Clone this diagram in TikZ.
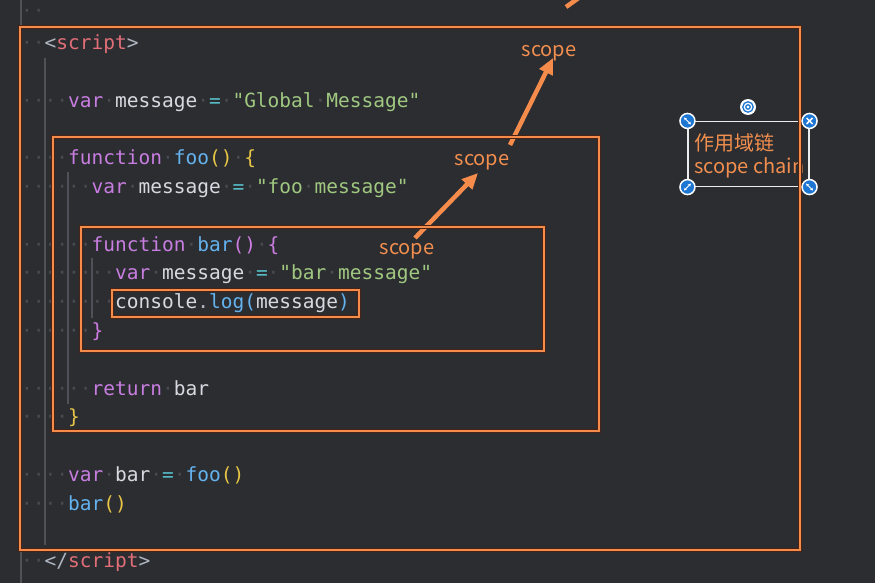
\documentclass[tikz,border=0pt]{standalone}
\usepackage{fontspec}
\setmonofont{DejaVu Sans Mono}
\newfontfamily\cjk{Noto Sans CJK SC}
\usetikzlibrary{arrows.meta,calc}
\definecolor{bg}{RGB}{43,45,49}
\definecolor{guide}{RGB}{78,81,87}
\definecolor{dotc}{RGB}{72,75,81}
\definecolor{ckw}{RGB}{200,125,224}
\definecolor{cid}{RGB}{214,218,224}
\definecolor{cop}{RGB}{86,190,200}
\definecolor{cstr}{RGB}{160,200,128}
\definecolor{cfn}{RGB}{100,178,238}
\definecolor{cyel}{RGB}{232,197,70}
\definecolor{cpur}{RGB}{205,125,225}
\definecolor{ctag}{RGB}{226,110,120}
\definecolor{cpun}{RGB}{175,182,194}
\definecolor{orng}{RGB}{245,140,76}
\definecolor{obrd}{RGB}{70,35,20}
\definecolor{lab}{RGB}{242,142,78}
\definecolor{hblue}{RGB}{28,118,210}
\newcommand{\wsp}{\textcolor{dotc}{·}}
\newcommand{\kw}[1]{\textcolor{ckw}{#1}}
\newcommand{\idf}[1]{\textcolor{cid}{#1}}
\newcommand{\opr}[1]{\textcolor{cop}{#1}}
\newcommand{\strg}[1]{\textcolor{cstr}{#1}}
\newcommand{\fnn}[1]{\textcolor{cfn}{#1}}
\newcommand{\yl}[1]{\textcolor{cyel}{#1}}
\newcommand{\pu}[1]{\textcolor{cpur}{#1}}
\newcommand{\pun}[1]{\textcolor{cpun}{#1}}
\begin{document}
\begin{tikzpicture}[x=1pt,y=-1pt,
  code/.style={anchor=base west, inner sep=0pt, font=\ttfamily\fontsize{19.5}{23}\selectfont},
  guideline/.style={draw=guide, line width=1.1pt},
  scopebox/.style={draw=obrd, double=orng, double distance=2.8pt, line width=0.9pt, inner sep=0pt},
  lbl/.style={text=lab, inner sep=1pt, font=\cjk\fontsize{20}{23}\selectfont},
  arr/.style={draw=orng, line width=4.5pt, -{Triangle[length=16pt,width=14pt]}},
  handle/.style={circle, fill=hblue, draw=white, line width=1.5pt, minimum size=15pt, inner sep=0pt},
  hicon/.style={white, line width=1pt, {Stealth[length=2.8pt,width=3.2pt]}-{Stealth[length=2.8pt,width=3.2pt]}}
]
\useasboundingbox (0,0) rectangle (875,583);
\fill[bg] (0,0) rectangle (875,583);
% gutter and indent guides
\draw[guideline] (21,0) -- (21,583);
\draw[guideline] (45,58) -- (45,545);
\draw[guideline] (68,172) -- (68,404);
\draw[guideline] (92,258) -- (92,318);
% code
\node[code] (l0) at (21,18) {\wsp\wsp};
\node[code] (l1) at (21,49.5) {\wsp\wsp\pun{<}\textcolor{ctag}{script}\pun{>}};
\node[code] (l2) at (21,107.5) {\wsp\wsp\wsp\wsp\kw{var}\wsp\idf{message}\wsp\opr{=}\wsp\strg{"Global\wsp Message"}};
\node[code] (l3) at (21,164.5) {\wsp\wsp\wsp\wsp\kw{function}\wsp\fnn{foo}\yl{()}\wsp\yl{\{}};
\node[code] (l4) at (21,193.5) {\wsp\wsp\wsp\wsp\wsp\wsp\kw{var}\wsp\idf{message}\wsp\opr{=}\wsp\strg{"foo\wsp message"}};
\node[code] (l5) at (21,251) {\wsp\wsp\wsp\wsp\wsp\wsp\kw{function}\wsp\fnn{bar}\pu{()}\wsp\pu{\{}};
\node[code] (l6) at (21,279.5) {\wsp\wsp\wsp\wsp\wsp\wsp\wsp\wsp\kw{var}\wsp\idf{message}\wsp\opr{=}\wsp\strg{"bar\wsp message"}};
\node[code] (l7) at (21,308.5) {\wsp\wsp\wsp\wsp\wsp\wsp\wsp\wsp\idf{console}\pun{.}\fnn{log}\fnn{(}\idf{message}\fnn{)}};
\node[code] (l8) at (21,337.5) {\wsp\wsp\wsp\wsp\wsp\wsp\pu{\}}};
\node[code] (l9) at (21,395.5) {\wsp\wsp\wsp\wsp\wsp\wsp\kw{return}\wsp\idf{bar}};
\node[code] (l10) at (21,423.5) {\wsp\wsp\wsp\wsp\yl{\}}};
\node[code] (l11) at (21,481.5) {\wsp\wsp\wsp\wsp\kw{var}\wsp\idf{bar}\wsp\opr{=}\wsp\fnn{foo}\yl{()}};
\node[code] (l12) at (21,510.5) {\wsp\wsp\wsp\wsp\fnn{bar}\yl{()}};
\node[code] (l13) at (21,567.5) {\wsp\wsp\pun{</}\textcolor{ctag}{script}\pun{>}};
% scope labels and arrows
\node[lbl, anchor=base] (s1) at (407,254) {scope};
\node[lbl, anchor=base] (s2) at (482,165) {scope};
\node[lbl, anchor=base] (s3) at (549,57) {scope};
\draw[arr] ($(s1.base)+(8,-16)$) -- ($(s2.base)+(-4,8)$);
\draw[arr] ($(s2.base)+(28,-20)$) -- ($(s3.base)+(4,1)$);
\coordinate (topa) at (566,7);
\coordinate (topb) at (580,-3);
\draw[draw=orng, line width=4.5pt] (topa) -- (topb);
% selected text box
\node[draw=white!85!gray, line width=1.1pt, minimum width=121pt, minimum height=65pt, inner sep=0pt] (sel) at (748.5,154) {};
\node[lbl, anchor=west] (t1) at (693,143) {作用域链};
\node[lbl, anchor=west] (t2) at (693,168) {scope chain};
% scope boxes
\node[scopebox, minimum width=780pt, minimum height=523pt] (outer) at (410,288.5) {};
\node[scopebox, minimum width=546pt, minimum height=294pt] (foobox) at (326,284) {};
\node[scopebox, minimum width=463pt, minimum height=124pt] (barbox) at (312.5,289) {};
\node[scopebox, minimum width=247pt, minimum height=27pt] (logbox) at (235.5,303.5) {};
% handles
\node[handle] (h1) at (sel.north west) {};
\node[handle] (h2) at (sel.north east) {};
\node[handle] (h3) at (sel.south west) {};
\node[handle] (h4) at (sel.south east) {};
\draw[hicon] ($(h1)+(-3.4,-3.4)$) -- ($(h1)+(3.4,3.4)$);
\draw[hicon] ($(h4)+(-3.4,-3.4)$) -- ($(h4)+(3.4,3.4)$);
\draw[hicon] ($(h3)+(-3.4,3.4)$) -- ($(h3)+(3.4,-3.4)$);
\draw[white, line width=1.5pt] ($(h2)+(-3,-3)$) -- ($(h2)+(3,3)$) ($(h2)+(-3,3)$) -- ($(h2)+(3,-3)$);
\node[circle, fill=white, minimum size=16pt, inner sep=0pt] (rot) at (748,107) {};
\draw[hblue, line width=1.3pt] (rot) circle (5.2pt);
\draw[hblue, line width=1.3pt] (rot) circle (2.2pt);
\end{tikzpicture}
\end{document}
